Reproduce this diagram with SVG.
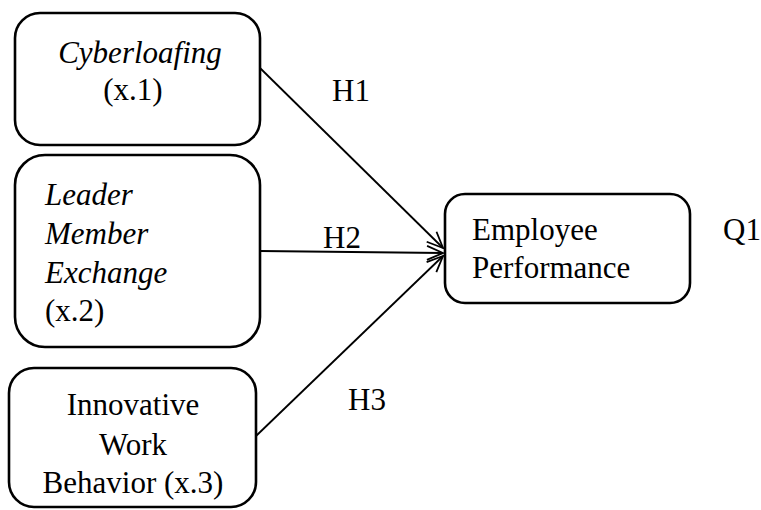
<svg xmlns="http://www.w3.org/2000/svg" width="761" height="510" viewBox="0 0 761 510">
<defs>
<marker id="arr" viewBox="0 0 20 20" refX="18" refY="10" markerWidth="20" markerHeight="20" markerUnits="userSpaceOnUse" orient="auto">
<path d="M2,3 L18,10 L2,17" fill="none" stroke="#000" stroke-width="1.8"/>
</marker>
</defs>
<rect width="761" height="510" fill="#fff"/>
<g id="connectors" stroke="#000" stroke-width="1.8" fill="none">
<line x1="260" y1="68" x2="443" y2="248" marker-end="url(#arr)"/>
<line x1="260" y1="251" x2="443" y2="253" marker-end="url(#arr)"/>
<line x1="256" y1="436" x2="443" y2="256" marker-end="url(#arr)"/>
</g>
<g id="labels" font-family="Liberation Serif" font-size="31" fill="#000">
<text x="332" y="101">H1</text>
<text x="323" y="248">H2</text>
<text x="348" y="410">H3</text>
<text x="723" y="240">Q1</text>
</g>
<g id="cyberloafing" font-family="Liberation Serif" font-size="31">
<rect x="15" y="13" width="245" height="132" rx="25" fill="#fff" stroke="#000" stroke-width="2.6"/>
<text font-style="italic" x="140" y="63" text-anchor="middle">Cyberloafing</text>
<text x="133" y="100" text-anchor="middle">(x.1)</text>
</g>
<g id="lmx" font-family="Liberation Serif" font-size="31">
<rect x="15" y="155" width="245" height="192" rx="30" fill="#fff" stroke="#000" stroke-width="2.6"/>
<text font-style="italic" x="45" y="205">Leader</text>
<text font-style="italic" x="45" y="244">Member</text>
<text font-style="italic" x="45" y="283">Exchange</text>
<text x="45" y="321">(x.2)</text>
</g>
<g id="iwb" font-family="Liberation Serif" font-size="31">
<rect x="9" y="368" width="247" height="139" rx="25" fill="#fff" stroke="#000" stroke-width="2.6"/>
<text x="133" y="415" text-anchor="middle">Innovative</text>
<text x="133" y="455" text-anchor="middle">Work</text>
<text x="133" y="493" text-anchor="middle">Behavior (x.3)</text>
</g>
<g id="employee" font-family="Liberation Serif" font-size="31">
<rect x="445" y="194" width="245" height="109" rx="20" fill="#fff" stroke="#000" stroke-width="2.6"/>
<text x="472" y="240">Employee</text>
<text x="472" y="278">Performance</text>
</g>
</svg>
